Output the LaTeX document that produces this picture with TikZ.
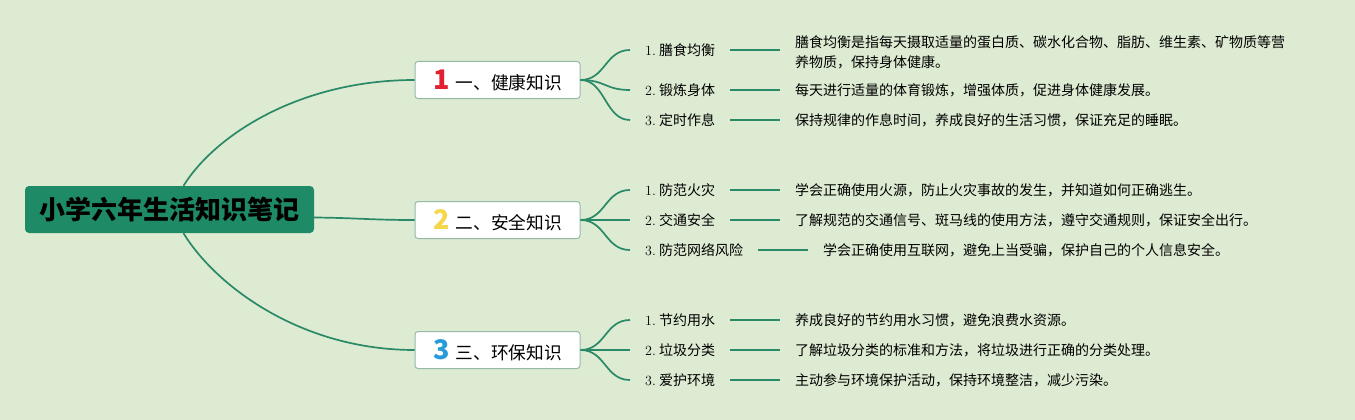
\documentclass[tikz,border=0pt]{standalone}
\usepackage{fontspec}
\usepackage{tikz}
\usetikzlibrary{positioning}
\newfontfamily\cjk{Noto Sans CJK SC}
\definecolor{bggreen}{RGB}{221,235,210}
\definecolor{rootgreen}{RGB}{30,138,102}
\definecolor{linkgreen}{RGB}{42,137,102}
\definecolor{boxline}{RGB}{150,185,168}
\definecolor{numred}{RGB}{226,32,48}
\definecolor{numyellow}{RGB}{246,214,74}
\definecolor{numblue}{RGB}{40,155,216}
\newcommand{\nr}[2]{{\color{#1}\fontsize{27}{27}\selectfont\bfseries #2}\hspace{6pt}}
\newcommand{\lb}[2]{{\rmfamily #1.}\ #2}

\begin{document}
\begin{tikzpicture}[x=1pt, y=-1pt,
  topic/.style={draw=boxline, line width=1pt, fill=white, rounded corners=3pt,
    minimum width=165pt, minimum height=37pt, inner sep=0pt,
    font=\cjk\fontsize{17.7}{20}\selectfont},
  item/.style={anchor=west, inner sep=0pt, font=\cjk\fontsize{14}{18}\selectfont},
  desc/.style={anchor=west, inner sep=0pt, align=left,
    font=\cjk\fontsize{14}{20}\selectfont},
  link/.style={draw=linkgreen, line width=1.7pt},
  twig/.style={draw=linkgreen, line width=1.7pt, shorten <=15pt, shorten >=15pt}]
\fill[bggreen] (0,0) rectangle (1355,420);
% root
\node[fill=rootgreen, rounded corners=4pt, minimum width=289pt, minimum height=47pt,
  font=\cjk\fontsize{26}{28}\selectfont\bfseries] (root) at (169.5,209.5) {小学六年生活知识笔记};
% topics
\node[topic] (b1) at (497.5,80) {\nr{numred}{1}一、健康知识};
\node[topic] (b2) at (497.5,220) {\nr{numyellow}{2}二、安全知识};
\node[topic] (b3) at (497.5,350) {\nr{numblue}{3}三、环保知识};
\draw[link] ([xshift=14pt]root.north) .. controls (215,135) and (300,80) .. (b1.west);
\draw[link] ([yshift=-8pt]root.east) .. controls (360,218) and (370,220) .. (b2.west);
\draw[link] ([xshift=14pt]root.south) .. controls (215,285) and (300,350) .. (b3.west);
% items
\node[item] (l11) at (645,50) {\lb{1}{膳食均衡}};
\node[item] (l12) at (645,90) {\lb{2}{锻炼身体}};
\node[item] (l13) at (645,120) {\lb{3}{定时作息}};
\node[item] (l21) at (645,190) {\lb{1}{防范火灾}};
\node[item] (l22) at (645,220) {\lb{2}{交通安全}};
\node[item] (l23) at (645,250) {\lb{3}{防范网络风险}};
\node[item] (l31) at (645,320) {\lb{1}{节约用水}};
\node[item] (l32) at (645,350) {\lb{2}{垃圾分类}};
\node[item] (l33) at (645,380) {\lb{3}{爱护环境}};
% notes
\node[desc] (d11) at (795,52) {膳食均衡是指每天摄取适量的蛋白质、碳水化合物、脂肪、维生素、矿物质等营\\养物质，保持身体健康。};
\node[desc] (d12) at (795,90) {每天进行适量的体育锻炼，增强体质，促进身体健康发展。};
\node[desc] (d13) at (795,120) {保持规律的作息时间，养成良好的生活习惯，保证充足的睡眠。};
\node[desc] (d21) at (795,190) {学会正确使用火源，防止火灾事故的发生，并知道如何正确逃生。};
\node[desc] (d22) at (795,220) {了解规范的交通信号、斑马线的使用方法，遵守交通规则，保证安全出行。};
\node[desc] (d23) at (823,250) {学会正确使用互联网，避免上当受骗，保护自己的个人信息安全。};
\node[desc] (d31) at (795,320) {养成良好的节约用水习惯，避免浪费水资源。};
\node[desc] (d32) at (795,350) {了解垃圾分类的标准和方法，将垃圾进行正确的分类处理。};
\node[desc] (d33) at (795,380) {主动参与环境保护活动，保持环境整洁，减少污染。};
\foreach \t in {1,2,3}{
  \foreach \i in {1,2,3}{
    \draw[link] (b\t.east) .. controls +(25,0) and +(-25,0) .. ([xshift=-15pt]l\t\i.west);
    \draw[twig] (l\t\i.east) -- (l\t\i.east -| d\t\i.west);
  }
}
\end{tikzpicture}
\end{document}
